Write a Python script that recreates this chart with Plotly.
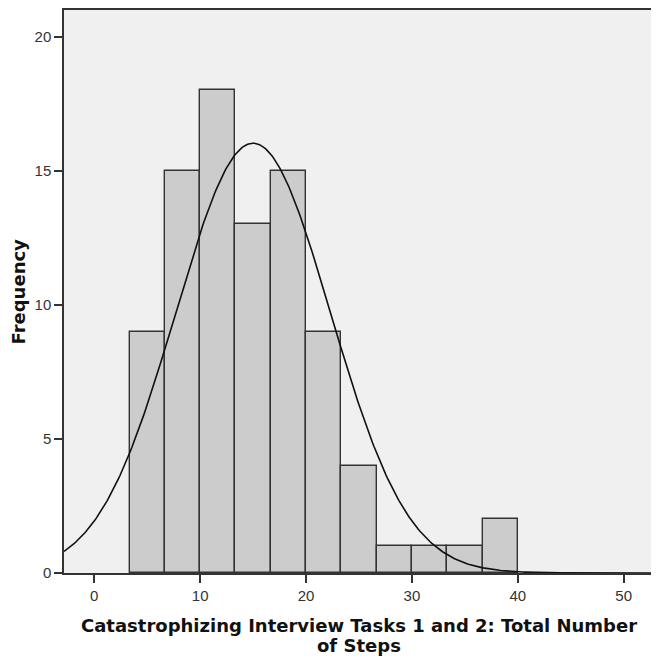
import numpy as np
import plotly.graph_objects as go

# ---- data ----
bin_start = 10 / 3
bin_width = 10 / 3
counts = [9, 15, 18, 13, 15, 9, 4, 1, 1, 1, 2]
fit_mean = 15.0
fit_sd = 7.3
x_ticks = [0, 10, 20, 30, 40, 50]
y_ticks = [0, 5, 10, 15, 20]
x_title_lines = ["Catastrophizing Interview Tasks 1 and 2: Total Number", "of Steps"]
y_title = "Frequency"

n = sum(counts)
centers = [bin_start + bin_width * (i + 0.5) for i in range(len(counts))]

x_range = [-2.86, 52.77]
y_range = [0, 21.0]

xs = np.linspace(x_range[0], x_range[1], 400)
ys = n * bin_width / (fit_sd * np.sqrt(2 * np.pi)) * np.exp(-0.5 * ((xs - fit_mean) / fit_sd) ** 2)

fig = go.Figure()
fig.add_trace(go.Bar(
    x=centers, y=counts, width=bin_width,
    marker=dict(color="#cccccc", line=dict(color="#333333", width=1.4)),
    hoverinfo="skip",
))
fig.add_trace(go.Scatter(
    x=xs, y=ys, mode="lines",
    line=dict(color="#111111", width=1.6),
    hoverinfo="skip",
))

axis_common = dict(
    showgrid=False, zeroline=False,
    showline=True, linecolor="#333333", linewidth=1.5, mirror=True,
    ticks="outside", ticklen=8, tickwidth=1.5, tickcolor="#333333",
    tickfont=dict(family="Liberation Sans, Arial, sans-serif", size=15, color="#333333"),
)

title_font = dict(family="DejaVu Sans, Verdana, sans-serif", size=18, color="#111111")

fig.update_layout(
    width=651, height=660,
    margin=dict(l=56, r=6, t=0, b=95, pad=0),
    paper_bgcolor="white",
    plot_bgcolor="#f0f0f0",
    showlegend=False,
    bargap=0,
    xaxis=dict(range=x_range, tickvals=x_ticks, **axis_common),
    yaxis=dict(range=y_range, tickvals=y_ticks, **axis_common),
    annotations=[
        dict(text="<b>" + x_title_lines[0] + "</b>", xref="paper", yref="paper",
             x=0.5, y=0, yshift=-52, xanchor="center", yanchor="middle",
             showarrow=False, font=title_font),
        dict(text="<b>" + x_title_lines[1] + "</b>", xref="paper", yref="paper",
             x=0.5, y=0, yshift=-72, xanchor="center", yanchor="middle",
             showarrow=False, font=title_font),
        dict(text="<b>" + y_title + "</b>", xref="paper", yref="paper",
             x=0, y=0.5, xshift=-46, xanchor="center", yanchor="middle",
             textangle=-90, showarrow=False, font=title_font),
    ],
)

fig.write_html("out.html")
